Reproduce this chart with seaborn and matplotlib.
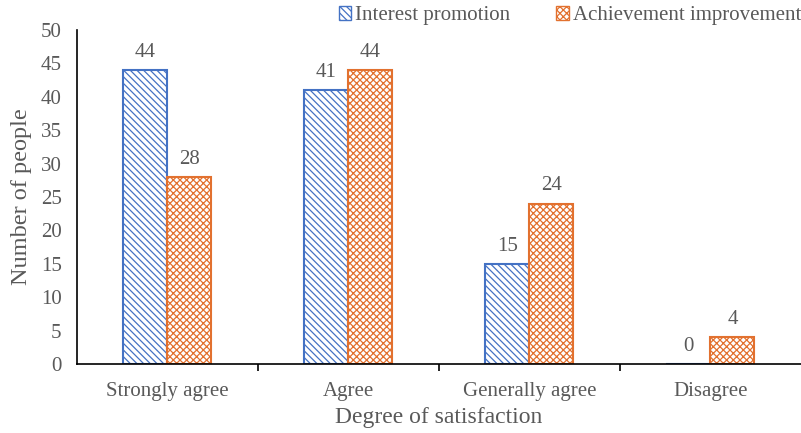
import numpy as np
import pandas as pd
import matplotlib
matplotlib.use('Agg')
import matplotlib.pyplot as plt
import seaborn as sns

categories = ['Strongly agree', 'Agree', 'Generally agree', 'Disagree']
series_names = ['Interest promotion', 'Achievement improvement']
interest = [44, 41, 15, 0]
achievement = [28, 44, 24, 4]

df = pd.DataFrame({
    'category': categories * 2,
    'series': [series_names[0]] * 4 + [series_names[1]] * 4,
    'value': interest + achievement,
})

sns.set_style('white')
plt.rcParams['font.family'] = ['Liberation Serif', 'DejaVu Serif']
plt.rcParams['hatch.linewidth'] = 0.9
TXT = '#595959'
BLUE = '#4472C4'
ORANGE = '#E2712F'

fig = plt.figure(figsize=(8.01, 4.33), dpi=100)
ax = fig.add_axes([0.096, 0.159, 0.904, 0.772])

sns.barplot(data=df, x='category', y='value', hue='series', order=categories,
            hue_order=series_names, width=0.486, ax=ax, gap=0,
            palette=['white', 'white'], legend=True)

styles = [(BLUE, '\\\\\\\\\\'), (ORANGE, 'xxxxx')]
for cont, (col, h) in zip(ax.containers, styles):
    for bar in cont:
        bar.set_facecolor('white')
        bar.set_edgecolor(col)
        bar.set_hatch(h)
        bar.set_linewidth(1.5)
    ax.bar_label(cont, fmt='%d', padding=6, fontsize=15, color=TXT)

ax.set_ylim(0, 50)
ax.set_yticks(range(0, 51, 5))
ax.set_xlim(-0.5, 3.5)
ax.set_xticks([0.5, 1.5, 2.5], minor=True)
ax.tick_params(axis='x', which='major', length=0, labelsize=15, labelcolor=TXT, pad=13)
ax.tick_params(axis='x', which='minor', length=5, width=1.2, color='black', direction='out')
ax.tick_params(axis='y', length=6, width=1.2, color='black', direction='out', labelsize=15,
               labelcolor=TXT, pad=5)
ax.xaxis.set_tick_params(which='both', bottom=True)
for s in ['top', 'right']:
    ax.spines[s].set_visible(False)
for s in ['left', 'bottom']:
    ax.spines[s].set_color('black')
    ax.spines[s].set_linewidth(1.2)

ax.set_xlabel('Degree of satisfaction', fontsize=17, color=TXT, labelpad=4)
ax.set_ylabel('Number of people', fontsize=17.5, color=TXT, labelpad=6)

leg = ax.legend(ncol=2, frameon=False, loc='upper right', bbox_to_anchor=(1.012, 1.095),
                fontsize=15, handlelength=0.6, handleheight=0.6, handletextpad=0.2,
                columnspacing=2.2, labelcolor=TXT, borderaxespad=0)
for patch, (col, h) in zip(leg.get_patches(), styles):
    patch.set_facecolor('white')
    patch.set_edgecolor(col)
    patch.set_hatch(h)

fig.savefig('out.png', dpi=100)
